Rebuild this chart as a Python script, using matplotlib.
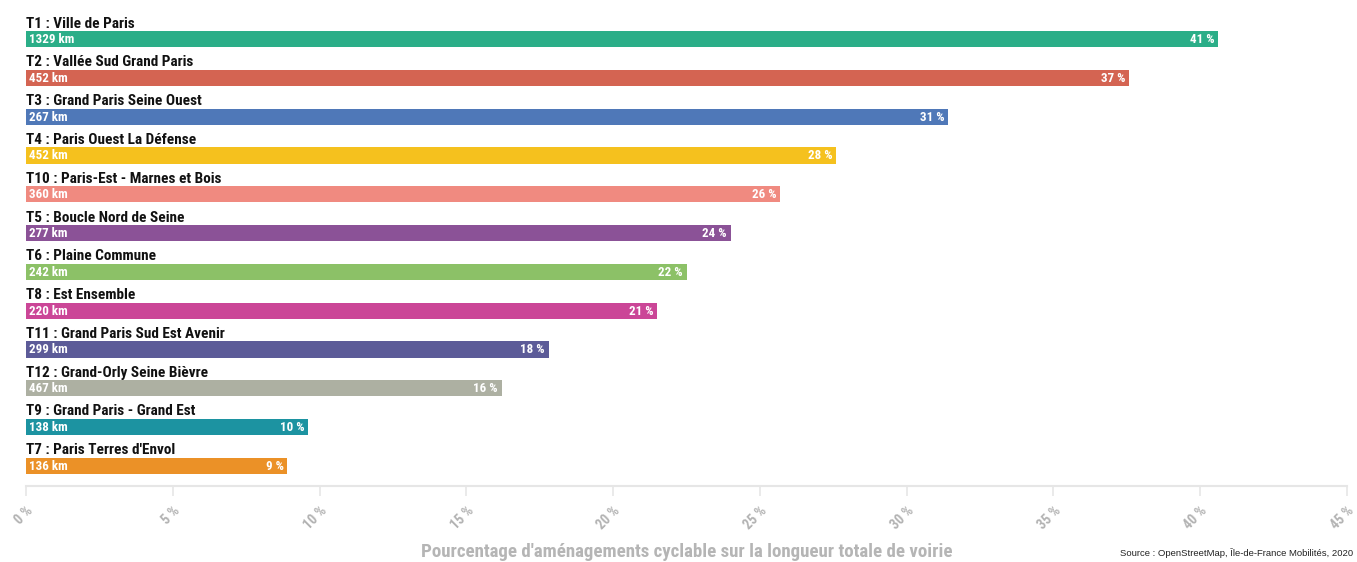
import matplotlib.pyplot as plt
from matplotlib import font_manager

names = {f.name for f in font_manager.fontManager.ttflist}
fam = 'Roboto Condensed' if 'Roboto Condensed' in names else 'Roboto'
plt.rcParams['font.family'] = [fam, 'DejaVu Sans']

labels = ["T1 : Ville de Paris", "T2 : Vallée Sud Grand Paris", "T3 : Grand Paris Seine Ouest",
          "T4 : Paris Ouest La Défense", "T10 : Paris-Est - Marnes et Bois", "T5 : Boucle Nord de Seine",
          "T6 : Plaine Commune", "T8 : Est Ensemble", "T11 : Grand Paris Sud Est Avenir",
          "T12 : Grand-Orly Seine Bièvre", "T9 : Grand Paris - Grand Est", "T7 : Paris Terres d'Envol"]
pct = [40.6, 37.57, 31.4, 27.6, 25.7, 24.0, 22.5, 21.49, 17.8, 16.2, 9.6, 8.9]
pct_shown = [41, 37, 31, 28, 26, 24, 22, 21, 18, 16, 10, 9]
km = [1329, 452, 267, 452, 360, 277, 242, 220, 299, 467, 138, 136]
colors = ['#2bae88', '#d46452', '#4f78b8', '#f5c11e', '#f08a80', '#8b5297',
          '#8cc167', '#cb4697', '#5c5b98', '#adb0a2', '#1c93a1', '#eb9127']
ticks = [0, 5, 10, 15, 20, 25, 30, 35, 40, 45]

fig = plt.figure(figsize=(13.57, 5.62), dpi=100)
ax = fig.add_axes([26/1357, 1 - 486/562, 1321/1357, 476/562])
ypos = list(range(len(labels)))
ax.barh(ypos, pct, height=0.42, color=colors)
ax.set_xlim(0, 45)
ax.set_ylim(11.52, -0.75)

for i in ypos:
    ax.text(0, i - 0.22, labels[i], fontsize=11, fontweight='bold', color='#111111', va='bottom', ha='left')
    ax.text(0.1, i + 0.01, f"{km[i]} km", fontsize=9.4, fontweight='bold', color='white', va='center', ha='left')
    ax.text(pct[i] - 0.12, i + 0.01, f"{pct_shown[i]} %", fontsize=9.4, fontweight='bold', color='white',
            va='center', ha='right')

for s in ['top', 'right', 'left']:
    ax.spines[s].set_visible(False)
ax.spines['bottom'].set_color('#e6e6e6')
ax.spines['bottom'].set_linewidth(1.5)
ax.set_yticks([])
ax.set_xticks(ticks)
ax.set_xticklabels([f"{t} %" for t in ticks], rotation=45, ha='right', va='top',
                   rotation_mode='anchor', fontsize=10, fontweight='bold', color='#b3b3b3')
ax.tick_params(axis='x', length=7, color='#e6e6e6', width=1.2, pad=6)

fig.text(687/1357, 1 - 552/562, "Pourcentage d'aménagements cyclable sur la longueur totale de voirie",
         ha='center', va='center', fontsize=13.6, fontweight='bold', color='#b5b5b5')
fig.text(1353/1357, 1 - 553/562, "Source : OpenStreetMap, Île-de-France Mobilités, 2020",
         ha='right', va='center', fontsize=6.8, family='Liberation Sans', color='#222222')

fig.savefig('out.png', dpi=100)
